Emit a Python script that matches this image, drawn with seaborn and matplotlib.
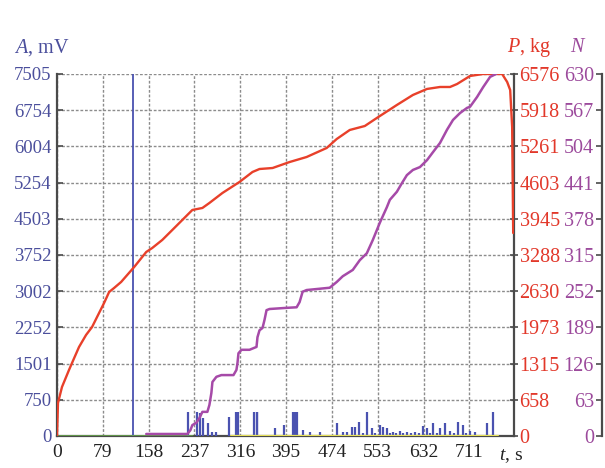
import matplotlib
matplotlib.use("Agg")
import matplotlib.pyplot as plt
import numpy as np
import pandas as pd
import seaborn as sns

# ---- data -------------------------------------------------------------
# load P (kg) versus time t (s)
load_t = [0, 1.7, 8.6, 20.7, 25.9, 38.0, 50.1, 60.5, 69.1, 81.2, 89.9, 98.5, 110.6,
          133.1, 153.9, 164.2, 181.5, 198.8, 216.1, 233.4, 250.7, 262.8, 285.2,
          314.6, 337.1, 349.2, 371.7, 401.1, 430.4, 465.0, 482.3, 504.8, 530.7,
          551.5, 586.0, 613.7, 637.9, 660.4, 677.7, 689.8, 712.2, 734.7, 767.5,
          776.2, 781.4, 784.8, 786.6]
load_p = [0, 599, 890, 1199, 1326, 1617, 1835, 1980, 2162, 2416, 2616, 2689, 2798,
          3070, 3343, 3415, 3561, 3742, 3924, 4106, 4142, 4233, 4414,
          4614, 4796, 4850, 4868, 4977, 5068, 5232, 5395, 5559, 5631,
          5777, 6013, 6195, 6304, 6340, 6340, 6394, 6540, 6576, 6576,
          6431, 6285, 5613, 3688]

# cumulative AE count N versus time
count_t = [153.9, 224.7, 230.0, 233.4, 240.3, 245.5, 250.7, 259.3, 262.8, 266.2,
           268.0, 274.9, 283.5, 304.3, 309.4, 311.2, 312.9, 318.1, 331.9, 344.0,
           345.7, 349.2, 354.4, 357.8, 361.3, 366.5, 395.9, 413.2, 418.3, 423.5,
           430.4, 470.2, 482.3, 492.7, 510.0, 522.1, 534.2, 544.5, 556.6, 568.7,
           573.9, 586.0, 594.7, 603.3, 613.7, 625.8, 637.9, 648.3, 660.4, 672.5,
           682.8, 694.9, 707.0, 712.2, 724.3, 734.7, 746.8, 757.0]
count_n = [3.5, 3.5, 10, 19, 23, 31, 42, 42, 54, 75,
           94, 103, 106, 106, 115, 127, 144, 150, 150, 155,
           172, 184, 188, 202, 219, 221, 223, 224, 233, 251,
           254, 258, 268, 278, 289, 306, 318, 341, 371, 398,
           411, 425, 440, 454, 463, 468, 480, 494, 510, 533,
           550, 562, 571, 573, 590, 607, 625, 630]

# AE amplitude A (mV) of individual hits
hit_t = [131.0, 226.5, 242.0, 247.0, 252.4, 261.0, 268.0, 274.9, 297.3, 309.4, 312.9,
         340.5, 344.0, 345.7, 375.1, 390.7, 406.2, 409.7, 413.2, 423.5, 435.6,
         452.9, 482.3, 492.7, 499.6, 508.2, 513.4, 520.3, 527.0, 534.2, 542.8,
         549.0, 556.6, 561.8, 568.7, 574.0, 579.1, 585.0, 591.2, 597.0, 603.3,
         610.0, 617.1, 624.0, 631.0, 637.9, 643.0, 648.3, 655.0, 660.4, 669.0,
         677.7, 684.0, 691.5, 700.1, 706.0, 712.2, 720.9, 741.6, 752.0]
hit_a = [7505, 497, 497, 477, 373, 270, 83, 83, 394, 497, 497,
         497, 497, 497, 166, 228, 497, 497, 497, 124, 83,
         83, 270, 83, 83, 187, 187, 290, 62, 497, 166,
         62, 228, 187, 166, 62, 83, 55, 104, 55, 83,
         55, 83, 55, 207, 166, 62, 270, 62, 166, 270,
         104, 55, 290, 228, 62, 104, 83, 270, 497]

# baseline traces
base_green_t = [0, 233]
base_yellow_t = [300, 760]

x_ticks = [0, 79, 158, 237, 316, 395, 474, 553, 632, 711]
a_labels = ["0", "750", "1501", "2252", "3002", "3752", "4503", "5254", "6004", "6754", "7505"]
p_labels = ["0", "658", "1315", "1973", "2630", "3288", "3945", "4603", "5261", "5918", "6576"]
n_labels = ["0", "63", "126", "189", "252", "315", "378", "441", "504", "567", "630"]

A_MAX, P_MAX, N_MAX, T_MAX = 7505, 6576, 630, 788

# ---- style ------------------------------------------------------------
sns.set_theme(style="white")
plt.rcParams["font.family"] = ["Liberation Serif", "DejaVu Serif"]
plt.rcParams["mathtext.fontset"] = "custom"
plt.rcParams["mathtext.rm"] = "Liberation Serif"
plt.rcParams["mathtext.it"] = "Liberation Serif:italic"

BLUE_TXT = "#4b4f9c"
BLUE = "#4a52b0"
RED = "#e8402a"
RED_TXT = "#e2382a"
PURPLE = "#a64aa8"
PURPLE_TXT = "#9c4a9c"
SPINE = "#4a4a4a"
GRID = "#8c8c8c"

fig = plt.figure(figsize=(6.05, 4.68), dpi=100)
ax = fig.add_axes([0.0942, 0.0684, 0.7554, 0.7735])
ax2 = ax.twinx()
ax3 = ax.twinx()

# grid on the amplitude axes
ax.set_xlim(0, T_MAX)
ax.set_ylim(0, A_MAX)
a_ticks = [A_MAX * k / 10 for k in range(11)]
ax.set_yticks(a_ticks)
ax.set_yticklabels(a_labels)
ax.set_xticks(x_ticks)
ax.set_xticklabels([str(v) for v in x_ticks])
ax.grid(True, color=GRID, linestyle=(0, (2, 1.3)), linewidth=1.0)
ax.set_axisbelow(True)

# amplitude hits
ax.vlines(hit_t[0], 0, hit_a[0], color=BLUE, linewidth=1.3, zorder=3)
ax.vlines(hit_t[1:], 0, hit_a[1:], color=BLUE, linewidth=1.6, zorder=3)

# baseline traces
sns.lineplot(x=base_green_t, y=[0, 0], ax=ax, color="#6ab04c", linewidth=1.8, zorder=4)
sns.lineplot(x=base_yellow_t, y=[0, 0], ax=ax, color="#e6e05a", linewidth=1.6, zorder=4)

# load curve
ax2.set_ylim(0, P_MAX)
ax2.set_yticks([P_MAX * k / 10 for k in range(11)])
ax2.set_yticklabels(p_labels)
sns.lineplot(x=load_t, y=load_p, ax=ax2, color=RED, linewidth=1.7, sort=False,
             estimator=None, zorder=5)

# cumulative count
ax3.set_ylim(0, N_MAX)
ax3.set_yticks([N_MAX * k / 10 for k in range(11)])
ax3.set_yticklabels(n_labels)
sns.lineplot(x=count_t, y=count_n, ax=ax3, color=PURPLE, linewidth=1.8, sort=False,
             estimator=None, zorder=4)
ax3.spines["left"].set_position(("axes", 1.193))
ax3.yaxis.tick_left()

for a in (ax, ax2, ax3):
    a.set_xlabel("")
    a.set_ylabel("")
    a.spines["top"].set_visible(False)
    a.patch.set_visible(False)
    for s in a.spines.values():
        s.set_color(SPINE)
        s.set_linewidth(1.6)

ax.spines["right"].set_visible(False)
ax2.spines["left"].set_visible(False)
ax2.spines["bottom"].set_visible(False)
ax3.spines["right"].set_visible(False)
ax3.spines["bottom"].set_visible(False)
ax3.spines["left"].set_visible(True)

ax.tick_params(axis="y", direction="in", length=4, width=1.2, color=SPINE,
               labelsize=13.5, labelcolor=BLUE_TXT, pad=4)
ax.tick_params(axis="x", direction="inout", length=6, width=1.2, color=SPINE,
               labelsize=14, labelcolor="#222222", pad=3)
ax2.tick_params(axis="y", direction="inout", length=6, width=1.2, color=SPINE,
                labelsize=14.5, labelcolor=RED_TXT, pad=1)
ax3.tick_params(axis="y", direction="out", length=4, width=1.2, color=SPINE,
                labelsize=14.5, labelcolor=PURPLE_TXT, pad=2)

# axis titles
fig.text(0.069, 0.899, r"$\it{A}$, mV", color=BLUE_TXT, fontsize=14.5,
         ha="center", va="center")
fig.text(0.874, 0.899, r"$\it{P}$, kg", color=RED_TXT, fontsize=14.5,
         ha="center", va="center")
fig.text(0.955, 0.899, r"$\it{N}$", color=PURPLE_TXT, fontsize=14.5,
         ha="center", va="center")
fig.text(0.8446, 0.025, r"$\it{t}$, s", color="#222222", fontsize=14,
         ha="center", va="center")

fig.savefig("out.png", dpi=100, facecolor="white")
